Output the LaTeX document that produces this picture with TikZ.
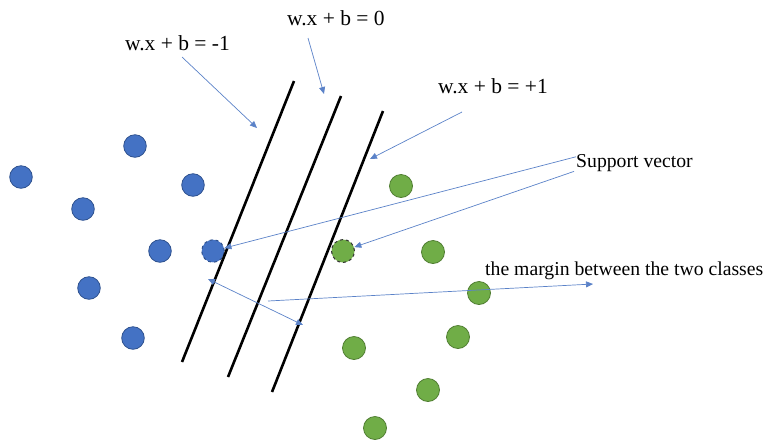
\documentclass[tikz,border=0pt]{standalone}
\usepackage{fontspec}
\setmainfont{Liberation Serif}
\usetikzlibrary{arrows.meta}
\definecolor{pointblue}{HTML}{4472C4}
\definecolor{blueedge}{HTML}{2F528F}
\definecolor{pointgreen}{HTML}{70AD47}
\definecolor{greenedge}{HTML}{507E32}
\definecolor{pointerblue}{HTML}{5B82C8}
\begin{document}
\begin{tikzpicture}[x=1pt, y=-1pt,
            bpoint/.style={circle, draw=blueedge, fill=pointblue, line width=0.8pt, minimum size=22.6pt, inner sep=0pt},
            gpoint/.style={circle, draw=greenedge, fill=pointgreen, line width=0.8pt, minimum size=23pt, inner sep=0pt},
            svector/.style={dashed, draw=black!80, line width=1pt},
            hplane/.style={line width=2.6pt, black},
            pointer/.style={draw=pointerblue, line width=0.7pt, -{Triangle[length=7pt, width=6pt]}},
            eqlabel/.style={anchor=base west, inner sep=0pt, font=\fontsize{21.5}{24}\selectfont},
            txtlabel/.style={anchor=base west, inner sep=0pt, font=\fontsize{19.7}{22}\selectfont}
        ]
            \useasboundingbox (0,0) rectangle (768,440);

            \node[bpoint] (b1) at (21, 177) {};
            \node[bpoint] (b2) at (135, 146) {};
            \node[bpoint] (b3) at (193, 185) {};
            \node[bpoint] (b4) at (83, 209) {};
            \node[bpoint] (b5) at (160, 251) {};
            \node[bpoint] (b6) at (89, 288) {};
            \node[bpoint] (b7) at (133, 338) {};
            \node[bpoint, svector, draw=blueedge] (bsv) at (213, 251) {};

            \node[gpoint] (g1) at (401, 186) {};
            \node[gpoint] (g2) at (433, 252) {};
            \node[gpoint] (g3) at (479, 293) {};
            \node[gpoint] (g4) at (458, 337) {};
            \node[gpoint] (g5) at (354, 348) {};
            \node[gpoint] (g6) at (428, 390) {};
            \node[gpoint] (g7) at (375, 428) {};
            \node[gpoint, svector] (gsv) at (343, 251) {};

            \coordinate (neg top) at (294, 81);
            \coordinate (neg bot) at (182, 362);
            \coordinate (mid top) at (341, 96);
            \coordinate (mid bot) at (228, 377);
            \coordinate (pos top) at (383, 111);
            \coordinate (pos bot) at (272, 392);
            \draw[hplane] (neg top)--(neg bot);
            \draw[hplane] (mid top)--(mid bot);
            \draw[hplane] (pos top)--(pos bot);

            \node[eqlabel] (eneg) at (125, 50) {w.x + b = -1};
            \node[eqlabel] (emid) at (287, 25) {w.x + b = 0};
            \node[eqlabel] (epos) at (438, 93) {w.x + b = +1};
            \node[txtlabel] (sv) at (576, 167) {Support vector};
            \node[txtlabel] (mlabel) at (485, 275) {the margin between the two classes};

            \coordinate (neg tail) at (182, 57);
            \coordinate (neg tip) at (257, 128);
            \coordinate (mid tail) at (308, 38);
            \coordinate (mid tip) at (324, 94);
            \coordinate (pos tail) at (462, 112);
            \coordinate (pos tip) at (370, 159);
            \draw[pointer] (neg tail)--(neg tip);
            \draw[pointer] (mid tail)--(mid tip);
            \draw[pointer] (pos tail)--(pos tip);

            \draw[pointer] ([yshift=-3pt]sv.north west)--(bsv);
            \draw[pointer] ([xshift=-2pt]sv.south west)--(gsv);

            \coordinate (gap left) at (208, 279);
            \coordinate (gap right) at (303, 325);
            \coordinate (m tail) at (268, 301);
            \coordinate (m tip) at (593, 284);
            \draw[pointer, {Triangle[length=7pt, width=6pt]}-{Triangle[length=7pt, width=6pt]}] (gap left)--(gap right);
            \draw[pointer] (m tail)--(m tip);
        \end{tikzpicture}
\end{document}
